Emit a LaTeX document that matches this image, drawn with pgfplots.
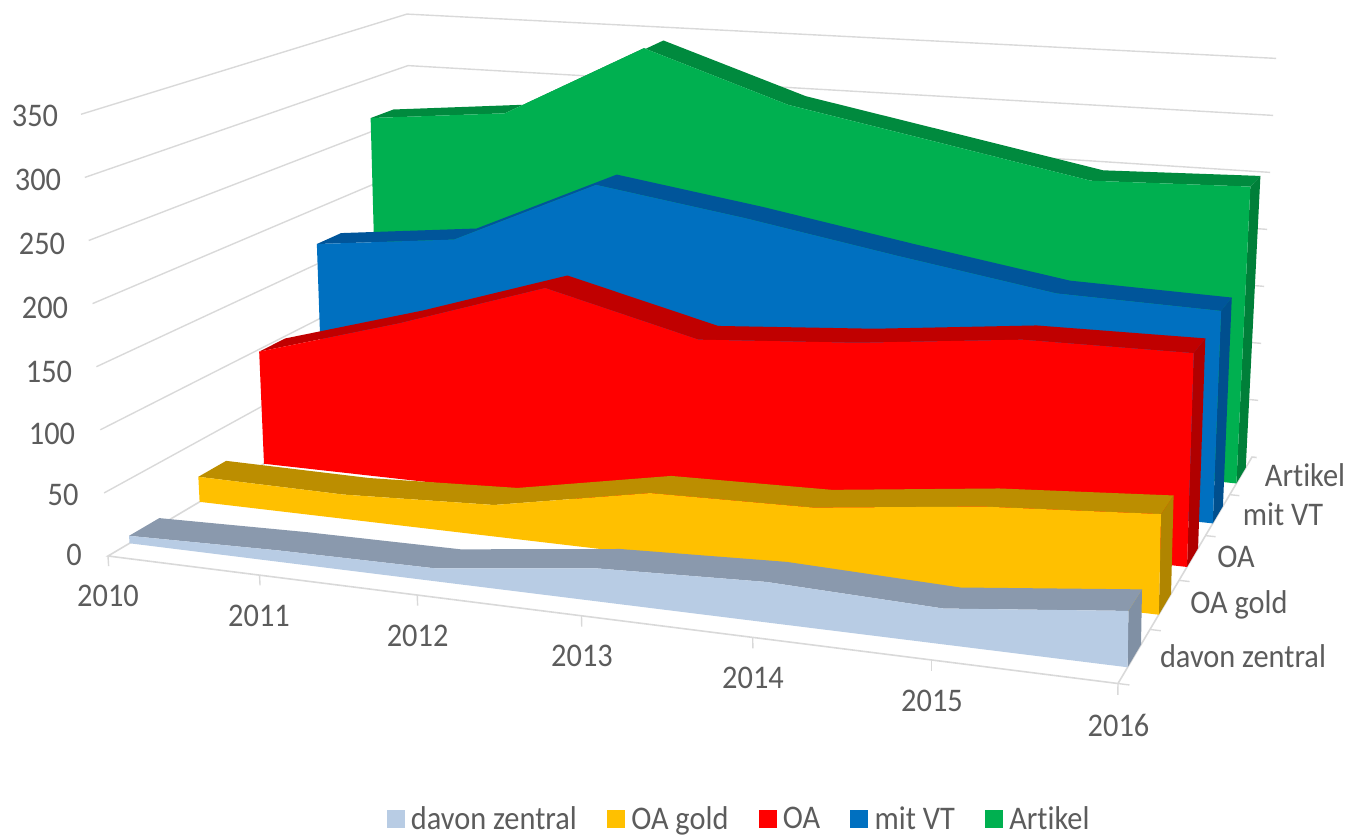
\documentclass[border=0pt]{standalone}
\usepackage{pgfplots}
\pgfplotsset{compat=1.18}
\usepackage{fontspec}
\setmainfont[FakeStretch=0.92,Ligatures=NoCommon]{Carlito}
\definecolor{txt}{HTML}{5C5C5C}
\definecolor{grid}{HTML}{D9D9D9}
\definecolor{cZ}{HTML}{B8CCE4}\definecolor{cZd}{HTML}{8A99AD}\definecolor{cZs}{HTML}{8090A4}
\definecolor{cG}{HTML}{FFC000}\definecolor{cGd}{HTML}{BC8E00}\definecolor{cGs}{HTML}{B08500}
\definecolor{cO}{HTML}{FF0000}\definecolor{cOd}{HTML}{C00000}\definecolor{cOs}{HTML}{B00000}
\definecolor{cV}{HTML}{0070C0}\definecolor{cVd}{HTML}{00559A}\definecolor{cVs}{HTML}{004F8E}
\definecolor{cA}{HTML}{00B050}\definecolor{cAd}{HTML}{008A3E}\definecolor{cAs}{HTML}{007F39}
% t = year - 2010, f = 0/1 front/back of the ribbon (depth s = \sa + f*\sw), v = chart value
\pgfplotsset{table/pix/.style={row sep=\\,
  x expr={px(\thisrow{t},\sa+\thisrow{f}*\sw,\thisrow{v})},
  y expr={py(\thisrow{t},\sa+\thisrow{f}*\sw,\thisrow{v})}}}
% #1 depth of the ribbon, #2 colour key, #3..#9 values 2010..2016
\newcommand\ribbon[9]{%
 \def\sa{#1}\def\sw{0.42}%
 \addplot[draw=none,fill=c#2s,forget plot] table[pix]{t f v\\ 6 0 0\\ 6 1 0\\ 6 1 #9\\ 6 0 #9\\};
 \addplot[draw=none,fill=c#2d,forget plot] table[pix]{t f v\\ 0 0 #3\\ 1 0 #4\\ 2 0 #5\\ 3 0 #6\\ 4 0 #7\\ 5 0 #8\\ 6 0 #9\\ 6 1 #9\\ 5 1 #8\\ 4 1 #7\\ 3 1 #6\\ 2 1 #5\\ 1 1 #4\\ 0 1 #3\\};
 \addplot[draw=none,fill=c#2,forget plot] table[pix]{t f v\\ 0 0 0\\ 0 0 #3\\ 1 0 #4\\ 2 0 #5\\ 3 0 #6\\ 4 0 #7\\ 5 0 #8\\ 6 0 #9\\ 6 0 0\\};
}
\newcommand\lab[3]{\node[font=\fontsize{33}{33}\selectfont,text=txt,inner sep=0pt] at (axis cs:#1) {#2};}
\begin{document}
\begin{tikzpicture}
\begin{axis}[
  hide axis, scale only axis, width=1351pt, height=836pt,
  xmin=0, xmax=1351, ymin=0, ymax=836, y dir=reverse, clip=false,
  declare function={
    dn(\xa,\xb)=1-0.01957*\xa+0.045*\xb;
    px(\xa,\xb,\xc)=(108+146.45*\xa+80*\xb+(-3.86+0.78*\xa+0.5*\xb)*\xc/50)/dn(\xa,\xb);
    py(\xa,\xb,\xc)=(556+7.875*\xa-19.41*\xb-63.1*\xc/50)/dn(\xa,\xb);
  },
  legend image code/.code={\fill[#1] (0pt,-8.5pt) rectangle (17pt,8.5pt);},
  legend style={at={(axis cs:738,819)},anchor=center,draw=none,fill=none,
    legend columns=5,font=\fontsize{33}{33}\selectfont,text=txt,
    inner sep=0pt,
    /tikz/every even column/.append style={column sep=30pt},
    nodes={inner sep=0pt,anchor=west,text=txt}},
]
\path (axis cs:0,0) -- (axis cs:1351,836);
% walls: gridlines at every 50
\def\sa{0}\def\sw{5}
\pgfplotsinvokeforeach{50,100,150,200,250,300,350}{
 \addplot[color=grid,line width=1.4pt,forget plot] table[pix]{t f v\\ 0 0 #1\\ 0 1 #1\\ 6.02 1 #1\\};
}
% floor edges and ticks
\addplot[color=grid,line width=1.6pt,forget plot] table[pix]{t f v\\ 0 1 0\\ 0 0 0\\ 6 0 0\\ 6 1 0\\ 6.03 1 0\\};
\pgfplotsinvokeforeach{0,1,2,3,4,5,6}{
 \addplot[color=grid,line width=1.4pt,forget plot] table[pix]{t f v\\ #1 0 0\\ #1 0 -8\\};
}
\pgfplotsinvokeforeach{0,0.2,0.4,0.6,0.8}{
 \addplot[color=grid,line width=1.4pt,forget plot] table[pix]{t f v\\ 6 #1 0\\ 6.06 #1 0\\};
}
% series, back to front
\ribbon{4.29}{A}{263}{275.5}{343}{299}{274}{249}{253}
\ribbon{3.29}{V}{168}{182}{240}{220.5}{198}{177}{173.5}
\ribbon{2.29}{O}{98}{134}{175}{143}{152}{166}{167}
\ribbon{1.29}{G}{21}{20}{25.5}{49}{51.6}{66.5}{75}
\ribbon{0.29}{Z}{6}{9}{10}{25}{30}{26}{40}
% tick labels
\lab{35,116}{350}{30}\lab{38,180}{300}{30}\lab{42,244}{250}{30}\lab{45,308}{200}{30}
\lab{49,372}{150}{30}\lab{52,434}{100}{30}\lab{63,495}{50}{30}\lab{74,555}{0}{30}
\lab{108,596}{2010}{30}\lab{259,616}{2011}{30}\lab{417.6,636}{2012}{30}\lab{582,656}{2013}{30}
\lab{753,678}{2014}{30}\lab{932,701}{2015}{30}\lab{1118.5,725}{2016}{30}
\lab{1243,656}{davon zentral}{30}\lab{1239,605}{OA gold}{30}\lab{1236,557}{OA}{30}
\lab{1283,514}{mit VT}{30}\lab{1305,475}{Artikel}{30}
% legend
\addlegendimage{cZ}\addlegendentry{\hspace{7pt}davon zentral}
\addlegendimage{cG}\addlegendentry{\hspace{7pt}OA gold}
\addlegendimage{cO}\addlegendentry{\hspace{7pt}OA}
\addlegendimage{cV}\addlegendentry{\hspace{7pt}mit VT}
\addlegendimage{cA}\addlegendentry{\hspace{7pt}Artikel}
\end{axis}
\end{tikzpicture}
\end{document}
